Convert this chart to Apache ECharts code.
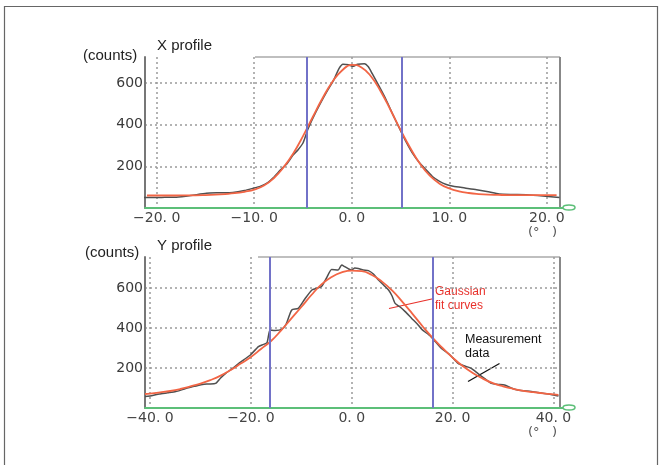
<!DOCTYPE html>
<html>
<head>
<meta charset="utf-8">
<script src="https://cdn.jsdelivr.net/npm/echarts@6/dist/echarts.min.js"></script>
<style>
    html, body { margin: 0; padding: 0; background: #fff; }
    #main { width: 662px; height: 465px; }
</style>
</head>
<body>
<div id="main"></div>
<script>
    // ---- X profile ----
    var xTicks = [-20, -10, 0, 10, 20];
    var xFwhm = [-4.6, 5.1];
    var xFitX = [-21, -20, -19, -18, -17, -16, -15, -14, -13, -12, -11, -10, -9, -8, -7, -6, -5, -4, -3, -2, -1, 0,
        1, 2, 3, 4, 5, 6, 7, 8, 9, 10, 11, 12, 13, 14, 15, 16, 17, 18, 19, 20, 21];
    var xFitV = [60, 60, 60, 60, 61, 61, 62, 64, 67, 71, 78, 88, 108, 143, 195, 262, 345, 437, 527, 605, 660, 687,
        675, 630, 557, 468, 375, 288, 212, 155, 117, 94, 80, 72, 67, 64, 63, 62, 62, 62, 62, 62, 62];
    var xMeasX = [-21.3, -19.5, -18.0, -16.5, -14.9, -13.5, -12.2, -11.0, -10.1, -9.4, -8.7, -8.0, -7.3, -6.6, -6.0, -5.5,
        -5.0, -4.5, -3.9, -3.3, -2.6, -1.9, -1.3, -0.9, -0.3, 0.1, 0.6, 1.3, 1.7, 2.1, 2.8, 3.5, 4.3, 5.1, 5.6, 6.2,
        6.9, 7.6, 8.3, 9.0, 9.7, 10.4, 11.6, 12.8, 14.0, 15.1, 16.5, 17.9, 19.6, 21.3];
    var xMeasV = [50, 51, 52, 60, 71, 73, 75, 84, 95, 104, 119, 148, 183, 215, 255, 280,
        312, 378, 440, 495, 555, 610, 670, 690, 688, 680, 690, 693, 678, 645, 585, 522, 440, 362, 315, 265,
        220, 185, 150, 128, 113, 104, 96, 88, 78, 67, 65, 64, 58, 50];

    // ---- Y profile ----
    var yTicks = [-40, -20, 0, 20, 40];
    var yFwhm = [-16.2, 16.1];
    var yFitX = [-41, -40, -38, -36, -34, -32, -30, -28, -26, -24, -22, -20, -18, -16, -14, -12, -10, -8, -6, -4, -2, 0,
        2, 4, 6, 8, 10, 12, 14, 16, 18, 20, 22, 24, 26, 28, 30, 32, 34, 36, 38, 40, 41];
    var yFitV = [70, 72, 78, 85, 95, 108, 122, 140, 162, 190, 222, 255, 295, 335, 388, 447, 505, 565, 618, 655, 678, 687,
        684, 665, 632, 588, 532, 472, 410, 352, 300, 252, 210, 175, 147, 124, 108, 96, 86, 79, 73, 68, 66];
    var yMeasX = [-41, -39.5, -38.2, -36.5, -34.9, -33.2, -31.5, -29.6, -28.3, -27, -26, -25, -23.7, -22.4, -21.2, -20.1,
        -18.5, -17.5, -16.8, -16.2, -15.2, -13.9, -13.0, -11.9, -10.6, -9.3, -7.9, -7.0, -6.0, -5.0, -4.0, -2.7, -2.0,
        -1.4, -0.6, 0, 0.6, 1.3, 2.3, 3.3, 4.3, 5.3, 6.3, 7.3, 8.0, 8.6, 9.6, 10.6, 11.9, 13.0, 13.9, 15.7, 17.8, 19.5,
        21.1, 22.4, 23.7, 25.0, 26.3, 27.7, 29.0, 30.3, 31.6, 32.9, 35.6, 38.2, 39.5, 41];
    var yMeasV = [57, 63, 70, 76, 82, 95, 107, 118, 120, 123, 150, 173, 197, 223, 245, 265,
        307, 318, 327, 390, 388, 393, 420, 490, 498, 545, 590, 598, 607, 650, 693, 690, 715,
        707, 695, 690, 700, 698, 690, 687, 670, 640, 615, 590, 560, 523, 505, 482, 448, 420, 393, 357, 298, 265,
        223, 210, 198, 173, 148, 123, 118, 115, 100, 90, 82, 73, 68, 60];

    function pairs(xs, vs) {
        return xs.map(function (x, i) { return [x, vs[i]]; });
    }

    function tickFmt(v) {
        var s = Math.abs(v).toFixed(1).replace('.', '. ');
        return (v < 0 ? '\u2212' : '') + s;
    }

    var labelFont = 'DejaVu Sans';
    var textFont = 'Liberation Sans';
    var dotted = {type: [2, 3], color: '#9a9a9a', width: 1.5};

    function xAxisOf(idx, min, max, ticks) {
        return {
            gridIndex: idx, type: 'value', min: min, max: max,
            axisLine: {onZero: false, lineStyle: {color: '#5cbf78', width: 2}},
            axisTick: {show: false, customValues: ticks},
            axisLabel: {customValues: ticks, formatter: tickFmt, color: '#444', fontSize: 14,
                fontFamily: labelFont, margin: 3},
            splitLine: {show: true, lineStyle: dotted}
        };
    }

    function yAxisOf(idx, max) {
        return {
            gridIndex: idx, type: 'value', min: 0, max: max,
            axisLine: {show: true, onZero: false, lineStyle: {color: '#777', width: 2}},
            axisTick: {show: false, customValues: [200, 400, 600]},
            axisLabel: {customValues: [200, 400, 600], color: '#3a3a3a', fontSize: 14,
                fontFamily: labelFont, margin: 2},
            splitLine: {show: true, lineStyle: dotted}
        };
    }

    function fwhmLines(vals) {
        return {
            silent: true, symbol: 'none', label: {show: false},
            lineStyle: {color: '#7272c8', width: 2, type: 'solid'},
            data: vals.map(function (v) { return {xAxis: v}; })
        };
    }

    var chart = echarts.init(document.getElementById('main'));
    var option = {
        backgroundColor: '#fff',
        animation: false,
        grid: [
            {left: 145, top: 57, width: 415, height: 151},
            {left: 145, top: 257, width: 415, height: 151}
        ],
        xAxis: [xAxisOf(0, -21.2, 21.35, xTicks), xAxisOf(1, -41, 41.3, yTicks)],
        yAxis: [yAxisOf(0, 725), yAxisOf(1, 755)],
        series: [
            {
                type: 'line', xAxisIndex: 0, yAxisIndex: 0, data: pairs(xMeasX, xMeasV),
                showSymbol: false, smooth: 0.2, lineStyle: {color: '#505050', width: 1.5},
                markLine: fwhmLines(xFwhm)
            },
            {
                type: 'line', xAxisIndex: 0, yAxisIndex: 0, data: pairs(xFitX, xFitV),
                showSymbol: false, smooth: true, lineStyle: {color: '#f26545', width: 1.8}
            },
            {
                type: 'line', xAxisIndex: 1, yAxisIndex: 1, data: pairs(yMeasX, yMeasV),
                showSymbol: false, smooth: 0.2, lineStyle: {color: '#505050', width: 1.5},
                markLine: fwhmLines(yFwhm)
            },
            {
                type: 'line', xAxisIndex: 1, yAxisIndex: 1, data: pairs(yFitX, yFitV),
                showSymbol: false, smooth: true, lineStyle: {color: '#f26545', width: 1.8}
            }
        ],
        graphic: [
            // outer frame
            {type: 'rect', shape: {x: 4.5, y: 6.5, width: 653, height: 470}, style: {fill: 'none', stroke: '#666', lineWidth: 1.2}, z: 0},
            // plot frames (top and right)
            {type: 'line', shape: {x1: 255, y1: 57, x2: 560, y2: 57}, style: {stroke: '#aaa', lineWidth: 1.5}},
            {type: 'line', shape: {x1: 560, y1: 57, x2: 560, y2: 208}, style: {stroke: '#888', lineWidth: 2}},
            {type: 'line', shape: {x1: 258, y1: 257, x2: 560, y2: 257}, style: {stroke: '#aaa', lineWidth: 1.5}},
            {type: 'line', shape: {x1: 560, y1: 257, x2: 560, y2: 408}, style: {stroke: '#888', lineWidth: 2}},
            // green axis ends
            {type: 'line', shape: {x1: 558, y1: 208, x2: 564, y2: 208}, style: {stroke: '#5cbf78', lineWidth: 2}},
            {type: 'ellipse', shape: {cx: 569, cy: 207.5, rx: 6, ry: 2.5}, style: {fill: '#fff', stroke: '#5cbf78', lineWidth: 1.5}},
            {type: 'line', shape: {x1: 558, y1: 408, x2: 564, y2: 408}, style: {stroke: '#5cbf78', lineWidth: 2}},
            {type: 'ellipse', shape: {cx: 569, cy: 407.5, rx: 6, ry: 2.5}, style: {fill: '#fff', stroke: '#5cbf78', lineWidth: 1.5}},
            // titles
            {type: 'text', left: 83, top: 48, style: {text: '(counts)', font: '15px ' + textFont, fill: '#222'}},
            {type: 'text', left: 157, top: 38, style: {text: 'X profile', font: '15px ' + textFont, fill: '#222'}},
            {type: 'text', left: 85, top: 245, style: {text: '(counts)', font: '15px ' + textFont, fill: '#222'}},
            {type: 'text', left: 157, top: 238, style: {text: 'Y profile', font: '15px ' + textFont, fill: '#222'}},
            // units
            {type: 'text', left: 528, top: 226, style: {text: '(\u00b0   )', font: '13px ' + labelFont, fill: '#555'}},
            {type: 'text', left: 528, top: 426, style: {text: '(\u00b0   )', font: '13px ' + labelFont, fill: '#555'}},
            // annotations
            {type: 'text', left: 435, top: 285, style: {text: 'Gaussian\nfit curves', font: '12px ' + textFont, fill: '#e8302a', lineHeight: 14}},
            {type: 'line', shape: {x1: 389, y1: 308.5, x2: 434, y2: 298.5}, style: {stroke: '#e8302a', lineWidth: 1.2}},
            {type: 'text', left: 465, top: 333, style: {text: 'Measurement\ndata', font: '12.5px ' + textFont, fill: '#111', lineHeight: 14}},
            {type: 'line', shape: {x1: 468, y1: 381.5, x2: 499.5, y2: 363.5}, style: {stroke: '#111', lineWidth: 1.2}}
        ]
    };
    chart.setOption(option);
</script>
</body>
</html>
